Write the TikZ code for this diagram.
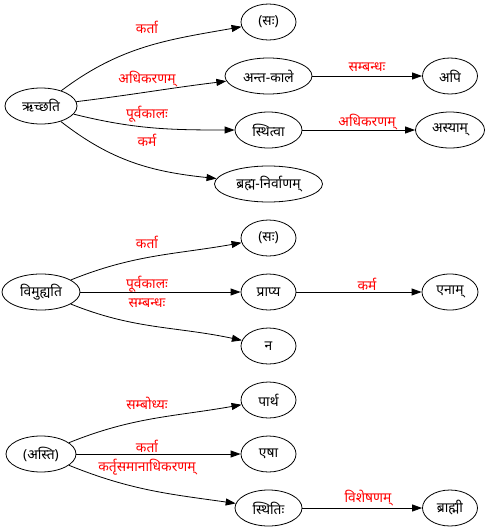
\documentclass[tikz,border=0pt]{standalone}
\usepackage{fontspec}
\setmainfont{Noto Sans}[Script=Devanagari]
\usetikzlibrary{shapes.geometric,arrows.meta}
\tikzset{
  el/.style={draw, ellipse, line width=0.8pt, inner sep=0pt, minimum height=36pt, font=\fontsize{13.8}{16}\selectfont},
  lbl/.style={text=red, inner sep=0pt, font=\fontsize{13.8}{16}\selectfont},
  edge/.style={draw, line width=0.8pt, -{Triangle[length=10pt,width=7pt]}},
}
\begin{document}
\begin{tikzpicture}[x=1pt,y=-1pt]
\useasboundingbox (0,0) rectangle (489,530);
% group 1
\node[el, minimum width=72pt] (r1) at (41,106) {ऋच्छति};
\node[el, minimum width=55pt] (sa1) at (268.5,22) {(सः)};
\node[el, minimum width=87pt] (ak) at (268.5,76) {अन्त-काले};
\node[el, minimum width=55pt] (api) at (450,76) {अपि};
\node[el, minimum width=67pt] (sth) at (268.5,130) {स्थित्वा};
\node[el, minimum width=69pt] (asy) at (450,130) {अस्याम्};
\node[el, minimum width=108pt] (bn) at (268.5,184) {ब्रह्म-निर्वाणम्};
\draw[edge] (r1) to[out=37,in=190] (sa1);
\draw[edge] (r1) to[out=7,in=187] (ak);
\draw[edge] (r1) to[out=-14,in=180] (sth);
\draw[edge] (r1) to[out=-38,in=174] (bn);
\draw[edge] (ak) -- (api);
\draw[edge] (sth) -- (asy);
\node[lbl] (l1) at (147,27) {कर्ता};
\node[lbl] (l2) at (147,79) {अधिकरणम्};
\node[lbl] (l3) at (147,114) {पूर्वकालः};
\node[lbl] (l4) at (147,140) {कर्म};
\node[lbl] (l5) at (367,67) {सम्बन्धः};
\node[lbl] (l6) at (367,122) {अधिकरणम्};
% group 2
\node[el, minimum width=78pt] (r2) at (41,292) {विमुह्यति};
\node[el, minimum width=55pt] (sa2) at (268.5,238) {(सः)};
\node[el, minimum width=55pt] (pr) at (268.5,292) {प्राप्य};
\node[el, minimum width=56pt] (en) at (450,292) {एनाम्};
\node[el, minimum width=55pt] (na) at (268.5,346) {न};
\draw[edge] (r2) to[out=22,in=190] (sa2);
\draw[edge] (r2) -- (pr);
\draw[edge] (r2) to[out=-22,in=168] (na);
\draw[edge] (pr) -- (en);
\node[lbl] (l7) at (147,242) {कर्ता};
\node[lbl] (l8) at (147,284) {पूर्वकालः};
\node[lbl] (l9) at (147,303) {सम्बन्धः};
\node[lbl] (l10) at (367,284) {कर्म};
% group 3
\node[el, minimum width=70pt] (r3) at (41,454) {(अस्ति)};
\node[el, minimum width=55pt] (pa) at (268.5,400) {पार्थ};
\node[el, minimum width=55pt] (es) at (268.5,454) {एषा};
\node[el, minimum width=67pt] (sti) at (268.5,508) {स्थितिः};
\node[el, minimum width=55pt] (br) at (450,508) {ब्राह्मी};
\draw[edge] (r3) to[out=22,in=190] (pa);
\draw[edge] (r3) -- (es);
\draw[edge] (r3) to[out=-22,in=172] (sti);
\draw[edge] (sti) -- (br);
\node[lbl] (l11) at (147,403) {सम्बोध्यः};
\node[lbl] (l12) at (147,446) {कर्ता};
\node[lbl] (l13) at (147,467) {कर्तृसमानाधिकरणम्};
\node[lbl] (l14) at (368,498) {विशेषणम्};
\end{tikzpicture}
\end{document}
